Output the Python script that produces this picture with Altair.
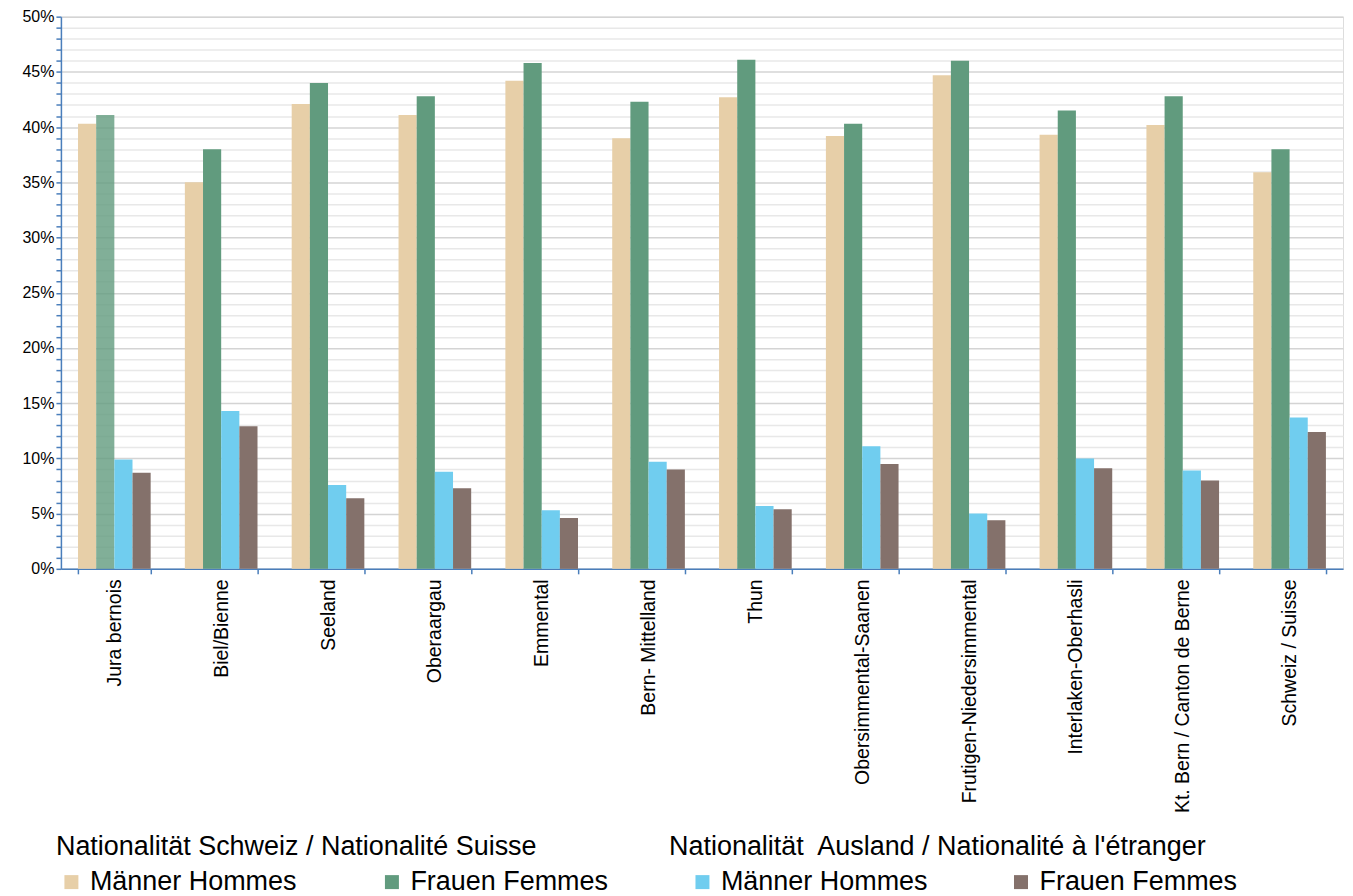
import altair as alt
import pandas as pd

regions = ["Jura bernois", "Biel/Bienne", "Seeland", "Oberaargau", "Emmental",
           "Bern- Mittelland", "Thun", "Obersimmental-Saanen",
           "Frutigen-Niedersimmental", "Interlaken-Oberhasli",
           "Kt. Bern / Canton de Berne", "Schweiz / Suisse"]
ch_men = [40.3, 35.0, 42.1, 41.1, 44.2, 39.0, 42.7, 39.2, 44.7, 39.3, 40.2, 35.9]
ch_women = [41.1, 38.0, 44.0, 42.8, 45.8, 42.3, 46.1, 40.3, 46.0, 41.5, 42.8, 38.0]
fo_men = [9.9, 14.3, 7.6, 8.8, 5.3, 9.7, 5.7, 11.1, 5.0, 10.0, 8.9, 13.7]
fo_women = [8.7, 12.9, 6.4, 7.3, 4.6, 9.0, 5.4, 9.5, 4.4, 9.1, 8.0, 12.4]

sex_labels = ["Männer Hommes", "Frauen Femmes"]
series_order = ["CH_M", "CH_F", "AU_M", "AU_F"]
title_ch = "Nationalität Schweiz / Nationalité Suisse"
title_au = "Nationalität\u00a0 Ausland / Nationalité à l'étranger"
colors_ch = ["#e7cfa8", "#619b7e"]
colors_au = ["#70cdef", "#84716b"]
y_ticks = [i / 100 for i in range(0, 51)]

rows = []
for i, r in enumerate(regions):
    rows.append({"region": r, "group": "CH", "sex": sex_labels[0], "series": "CH_M", "value": ch_men[i] / 100})
    rows.append({"region": r, "group": "CH", "sex": sex_labels[1], "series": "CH_F", "value": ch_women[i] / 100})
    rows.append({"region": r, "group": "AU", "sex": sex_labels[0], "series": "AU_M", "value": fo_men[i] / 100})
    rows.append({"region": r, "group": "AU", "sex": sex_labels[1], "series": "AU_F", "value": fo_women[i] / 100})
df = pd.DataFrame(rows)

FONT = "Liberation Sans"
BLUE = "#4a7ebb"

x_enc = alt.X(
    "region:N", sort=regions, title=None,
    scale=alt.Scale(paddingInner=0.32, paddingOuter=0.16),
    axis=alt.Axis(labelAngle=270, labelFontSize=19.5, labelColor="#000000",
                  labelFont=FONT, labelPadding=5, domainColor=BLUE,
                  domainWidth=1.5, tickColor=BLUE, tickSize=5, tickWidth=1.5,
                  tickBand="extent", grid=False, labelLimit=300),
)
xoff_enc = alt.XOffset("series:N", scale=alt.Scale(domain=series_order, paddingInner=0, paddingOuter=0))
y_enc = alt.Y(
    "value:Q", title=None,
    scale=alt.Scale(domain=[0, 0.5], nice=False),
    axis=alt.Axis(values=y_ticks,
                  labelExpr="round(datum.value*100) % 5 === 0 ? format(datum.value, '.0%') : ''",
                  labelFontSize=16, labelColor="#000000", labelFont=FONT,
                  labelPadding=2, domainColor=BLUE, domainWidth=1.5,
                  tickColor=BLUE, tickSize=5, tickWidth=1.5,
                  gridColor=alt.condition("round(datum.value*100) % 5 === 0",
                                          alt.value("#d4d4d4"), alt.value("#e8e8e8")),
                  gridWidth=1.5),
)


def legend(title, lx, soff, cpad):
    return alt.Legend(title=title, orient="none", legendX=lx, legendY=819,
                      direction="horizontal", columns=2, columnPadding=cpad,
                      titleFontSize=27, titleFontWeight="normal", titleColor="#000000",
                      titleFont=FONT, titlePadding=7, titleLimit=800,
                      labelFontSize=27, labelColor="#000000", labelFont=FONT,
                      labelOffset=5, labelLimit=500, symbolType="square",
                      symbolSize=196, symbolStrokeWidth=0, symbolOffset=soff,
                      padding=0)


ch = alt.Chart(df).transform_filter("datum.group === 'CH'").mark_bar().encode(
    x=x_enc, xOffset=xoff_enc, y=y_enc,
    color=alt.Color("sex:N", scale=alt.Scale(domain=sex_labels, range=colors_ch),
                    legend=legend(title_ch, -5, 2, 79)),
    opacity=alt.condition("datum.region === 'Jura bernois' && datum.series === 'CH_F'",
                          alt.value(0.8), alt.value(1)),
)
au = alt.Chart(df).transform_filter("datum.group === 'AU'").mark_bar().encode(
    x=x_enc, xOffset=xoff_enc, y=y_enc,
    color=alt.Color("sex:N", scale=alt.Scale(domain=sex_labels, range=colors_au),
                    legend=legend(title_au, 609, 20, 59)),
)

chart = alt.layer(ch, au).resolve_scale(color="independent").resolve_legend(
    color="independent"
).properties(
    width=1284, height=553,
    padding={"left": 13, "top": 0, "right": 2, "bottom": 0},
).configure_view(stroke=None).configure(background="#ffffff")

chart.save("out.html", embed_options={"renderer": "svg", "actions": False})
